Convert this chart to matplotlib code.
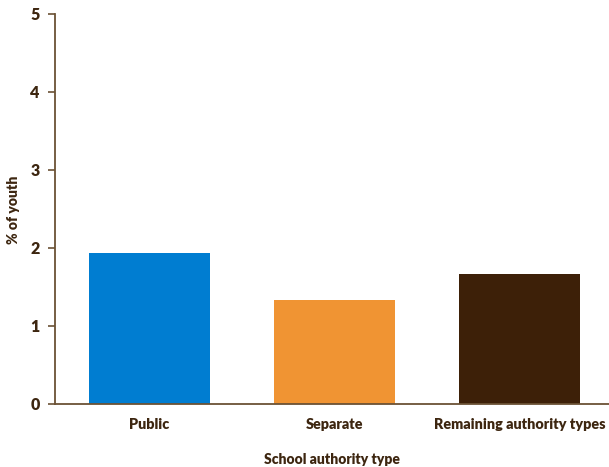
import matplotlib.pyplot as plt

categories = ['Public', 'Separate', 'Remaining authority types']
values = [1.93, 1.33, 1.67]
colors = ['#007dd1', '#f09433', '#3d2008']

text_color = '#3d2610'
spine_color = '#6b5235'

plt.rcParams['font.family'] = ['Lato', 'DejaVu Sans']
plt.rcParams['font.weight'] = 'bold'

fig = plt.figure(figsize=(6.09, 4.67), dpi=100)
ax = fig.add_axes([55 / 609, 1 - 404 / 467, 554 / 609, 390 / 467])

x = range(len(categories))
ax.bar(x, values, width=0.654, color=colors)

ax.set_xlim(-0.511, 2.484)
ax.set_ylim(0, 5)
ax.set_yticks([0, 1, 2, 3, 4, 5])
ax.set_xticks(list(x))
ax.set_xticklabels(categories, fontweight='heavy')
for lbl in ax.get_yticklabels():
    lbl.set_fontweight('heavy')

for s in ['top', 'right']:
    ax.spines[s].set_visible(False)
for s in ['left', 'bottom']:
    ax.spines[s].set_color(spine_color)
    ax.spines[s].set_linewidth(1.3)

ax.tick_params(axis='y', colors=spine_color, labelcolor=text_color, labelsize=11.5,
               length=5, width=1.2, direction='out', pad=6)
ax.tick_params(axis='x', length=0, labelcolor=text_color, labelsize=10.4, pad=10)

ax.set_ylabel('% of youth', color=text_color, fontsize=10, fontweight='heavy')
ax.set_xlabel('School authority type', color=text_color, fontsize=10, fontweight='heavy')
ax.xaxis.set_label_coords((332 - 55) / 554, -(460 - 404) / 390)
ax.xaxis.label.set_va('center')
ax.yaxis.set_label_coords(-(55 - 14) / 554, (404 - 210) / 390)
ax.yaxis.label.set_va('center')

fig.savefig('out.png', dpi=100)
